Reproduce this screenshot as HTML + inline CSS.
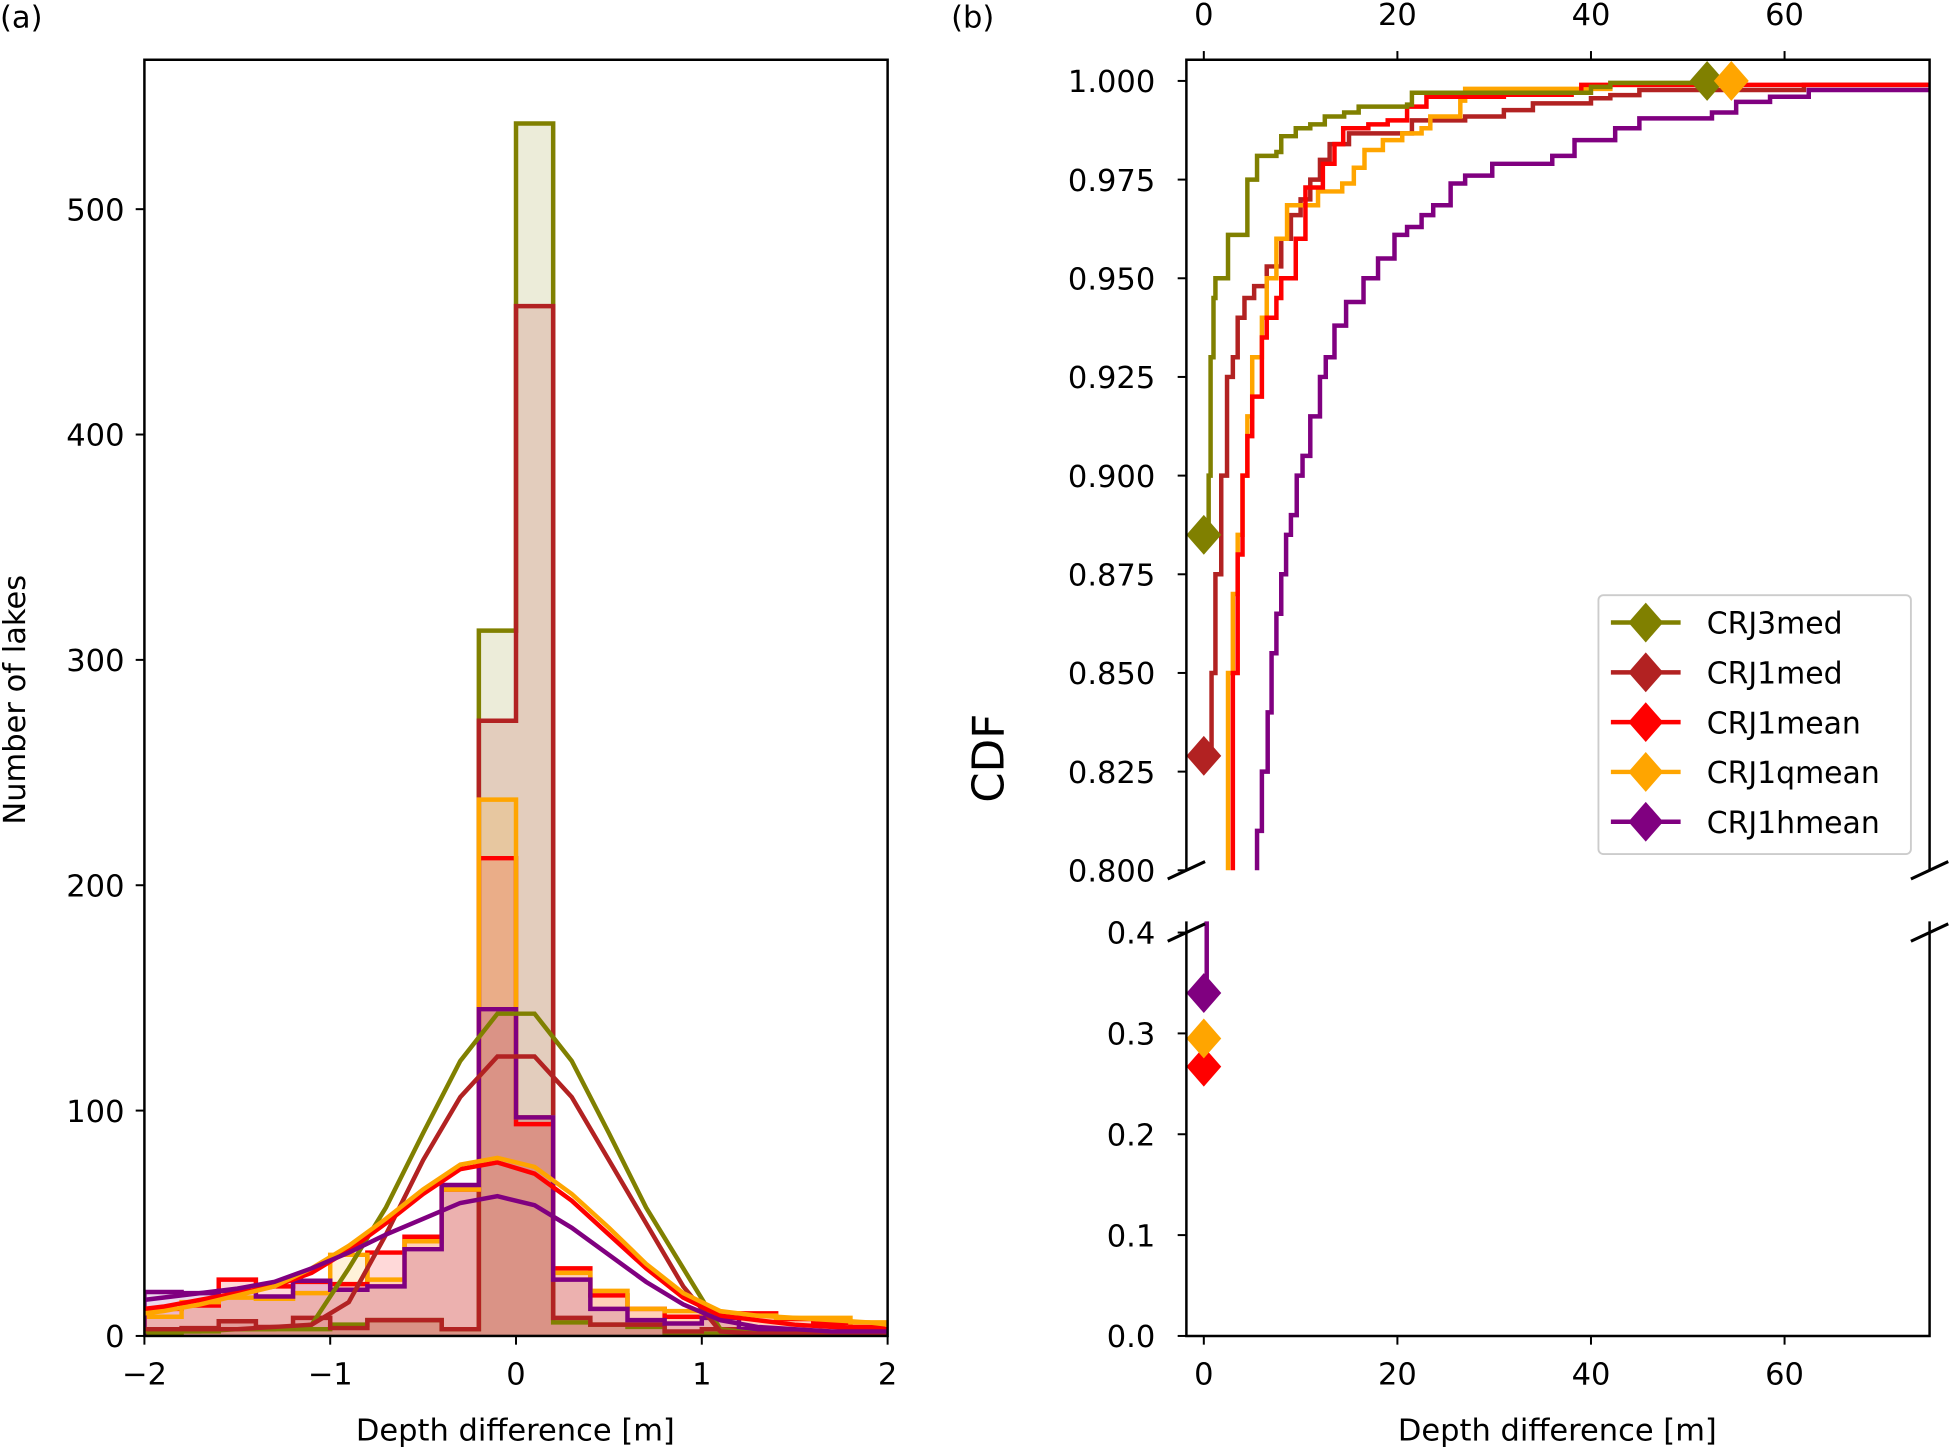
<!DOCTYPE html>
<html><head><meta charset="utf-8"><style>
html,body{margin:0;padding:0;background:#fff}
svg{display:block}
text{font-family:"DejaVu Sans","Liberation Sans",sans-serif;fill:#000}
</style></head><body>
<svg id="fig" width="1952" height="1448" viewBox="0 0 1568 1163" preserveAspectRatio="none" xmlns="http://www.w3.org/2000/svg">
<defs>
<clipPath id="clipA"><rect x="116" y="48" width="597" height="1025"/></clipPath>
<clipPath id="clipT"><rect x="953" y="48" width="597" height="651"/></clipPath>
<clipPath id="clipB"><rect x="953" y="740" width="597" height="333"/></clipPath>
</defs>
<g id="panelA"></g>
<g id="panelB"></g>
</svg>
<script>
// ---------- data ----------
const seriesNames = ["CRJ3med","CRJ1med","CRJ1mean","CRJ1qmean","CRJ1hmean"];
const seriesColors = ["#808000","#b22222","#ff0000","#ffa500","#800080"];
const binEdgesStart = -2, binWidth = 0.2;
const histCRJ3med  = [1,2,3,3,3,5,7,7,3,313,538,6,5,4,1,1,0,0,0,0];
const histCRJ1med  = [3,3.5,6.5,4,8,3.5,7,7,3,273,457,8,5,5,2,3,1.5,1,1,1];
const histCRJ1mean = [12,13.5,25,22,24,23,37,44,65,212,94,30,18,12,8.5,10,10,7.5,5.5,4];
const histCRJ1qmean= [8.5,15,17,16.5,19,36,25,42,65,238,97,28,20,12,11,10,9,8,8,6];
const histCRJ1hmean= [19.5,19,20,17.5,24.5,20.5,22,38.5,67,145,97,25,12,7,5.5,8,3,2,1,1];
const kdeX = [-2,-1.9,-1.7,-1.5,-1.3,-1.1,-0.9,-0.7,-0.5,-0.3,-0.1,0.1,0.3,0.5,0.7,0.9,1.1,1.3,1.5,1.7,1.9,2];
const kdeCRJ3med  = [2,2,2,3,3,5,30,57,90,122,143,143,122,90,57,30,3,1,1,1,1,1];
const kdeCRJ1med  = [3,3,3,3,4,5,15,45,78,106,124,124,106,78,50,22,2,1,1,1,1,1];
const kdeCRJ1mean = [12,13,16,19,22,28,38,50,63,74,77,72,60,45,30,17,9,7,5,4,3,3];
const kdeCRJ1qmean= [10,11,14,18,22,30,40,52,65,76,79,75,63,48,32,19,11,9,8,7,6,5];
const kdeCRJ1hmean= [16,17,19,21,24,30,37,45,52,59,62,58,48,36,24,14,7,4,3,2,2,2];
const yTicksA = [0,100,200,300,400,500];
const xTicksA = [-2,-1,0,1,2];
const xTickLabelsA = ["\u22122","\u22121","0","1","2"];

const cdfX_CRJ3med = [0.3,0.5,0.7,1.0,1.2,2.5,4.5,5.5,7.5,8,9.5,11,12.5,14.5,16,21,21.5,40,42,52];
const cdfY_CRJ3med = [0.885,0.9,0.93,0.945,0.95,0.961,0.975,0.981,0.982,0.986,0.988,0.989,0.991,0.992,0.9935,0.994,0.997,0.9985,0.9995,1.0];
const cdfX_CRJ1med = [0.5,0.8,1.2,1.8,2.4,3,3.5,4.2,5.2,6.5,8,9,10,11,12,13,15,20,21.5,27,31,34,40,42,45,62,75];
const cdfY_CRJ1med = [0.829,0.85,0.875,0.9,0.925,0.93,0.94,0.945,0.948,0.953,0.96,0.966,0.97,0.975,0.98,0.984,0.9867,0.9867,0.99,0.991,0.9926,0.9943,0.9956,0.9964,0.9977,0.999,0.999];
const cdfX_CRJ1mean = [2.5,3,3.5,4,4.5,5,6,6.5,7.5,8,9.5,10.5,12.3,13.5,14.4,17,19,21,23,31,38,39,75];
const cdfY_CRJ1mean = [0.79,0.85,0.88,0.9,0.91,0.92,0.935,0.94,0.945,0.95,0.96,0.973,0.979,0.984,0.988,0.989,0.99,0.9935,0.996,0.9965,0.997,0.999,0.999];
const cdfX_CRJ1qmean = [2,2.5,3,3.5,4,4.5,5,6,6.5,7.5,8.6,11.8,14.3,15.5,16.6,18.5,20.5,22.5,23.4,26.5,27,42,54.5];
const cdfY_CRJ1qmean = [0.79,0.85,0.87,0.885,0.9,0.915,0.93,0.94,0.95,0.96,0.9685,0.972,0.974,0.978,0.9825,0.985,0.9867,0.988,0.991,0.995,0.998,0.999,1.0];
const cdfX_CRJ1hmean = [5.2,5.5,6,6.6,7,7.5,8,8.5,9,9.6,10.2,11,12,12.6,13.5,14.7,16.5,18,19.7,21,22.5,23.7,25.5,27,29.8,33.5,36,38.3,42,42.5,45,50.4,52.5,55,58.5,62.5,75];
const cdfY_CRJ1hmean = [0.79,0.81,0.825,0.84,0.855,0.865,0.875,0.885,0.89,0.9,0.905,0.915,0.925,0.93,0.938,0.944,0.95,0.955,0.961,0.963,0.966,0.9685,0.974,0.976,0.979,0.979,0.981,0.985,0.985,0.988,0.9905,0.9905,0.992,0.9947,0.996,0.9977,0.9977];
const lowPurpleX = [0.3,0.3];
const lowPurpleY = [0.34,0.45];
const markerStartX = [0,0,0,0,0];
const markerStartY = [0.885,0.829,0.267,0.295,0.34];
const markerEndX = [52,null,null,54.5,null];
const markerEndY = [1.0,null,null,1.0,null];
const yTicksTop = [0.800,0.825,0.850,0.875,0.900,0.925,0.950,0.975,1.000];
const yTicksBot = [0.0,0.1,0.2,0.3,0.4];
const xTicksB = [0,20,40,60];

// ---------- helpers ----------
const NS="http://www.w3.org/2000/svg";
function mk(tag, attrs, parent){const e=document.createElementNS(NS,tag);for(const k in attrs)e.setAttribute(k,attrs[k]);parent.appendChild(e);return e;}
function txt(s, attrs, parent){const e=mk('text',attrs,parent);e.textContent=s;return e;}
const LW=3.6, FS=24.5;

// ---------- panel A ----------
const A=document.getElementById('panelA');
const ax=v=>116+(v+2)*(597/4);
const ay=v=>1073-v*1.81;
const hists=[histCRJ3med,histCRJ1med,histCRJ1mean,histCRJ1qmean,histCRJ1hmean];
const kdes=[kdeCRJ3med,kdeCRJ1med,kdeCRJ1mean,kdeCRJ1qmean,kdeCRJ1hmean];
const gA=mk('g',{'clip-path':'url(#clipA)'},A);
function stepPath(h){let d='M'+ax(binEdgesStart)+','+ay(0);h.forEach((v,i)=>{const x0=ax(binEdgesStart+i*binWidth),x1=ax(binEdgesStart+(i+1)*binWidth);d+=' L'+x0+','+ay(v)+' L'+x1+','+ay(v);});d+=' L'+ax(binEdgesStart+h.length*binWidth)+','+ay(0);return d;}
hists.forEach((h,i)=>{
  const p=mk('path',{d:stepPath(h)+' Z',fill:seriesColors[i],'fill-opacity':0.15,stroke:'none'},gA);
  
  
});
hists.forEach((h,i)=>{
  const p=mk('path',{d:stepPath(h),fill:'none',stroke:seriesColors[i],'stroke-width':LW,'stroke-linejoin':'miter'},gA);
  
  
});
kdes.forEach((k,i)=>{
  const pts=k.map((v,j)=>ax(kdeX[j])+','+ay(v)).join(' ');
  const p=mk('polyline',{points:pts,fill:'none',stroke:seriesColors[i],'stroke-width':LW},gA);
  
  
});
const frameA=mk('rect',{x:116,y:48,width:597,height:1025,fill:'none',stroke:'#000','stroke-width':2},A);


yTicksA.forEach(v=>{
  mk('line',{x1:109,x2:116,y1:ay(v),y2:ay(v),stroke:'#000','stroke-width':1.6},A);
  const t=txt(String(v),{x:100,y:ay(v)+9,'font-size':FS,'text-anchor':'end'},A);
  
  
});
xTicksA.forEach((v,i)=>{
  mk('line',{x1:ax(v),x2:ax(v),y1:1073,y2:1080,stroke:'#000','stroke-width':1.6},A);
  const t=txt(xTickLabelsA[i],{x:ax(v),y:1112,'font-size':FS,'text-anchor':'middle'},A);
  
  
});
let t;
t=txt('Depth difference [m]',{x:414,y:1157,'font-size':FS,'text-anchor':'middle'},A);

t=txt('Number of lakes',{x:0,y:0,'font-size':FS,'text-anchor':'middle',transform:'translate(20,562) rotate(-90)'},A);

t=txt('(a)',{x:0,y:22,'font-size':FS},A);


// ---------- panel B ----------
const B=document.getElementById('panelB');
const bx=v=>967+v*(155.5/20);
const byT=v=>699-(v-0.8)*(634/0.2);
const byB=v=>1073-v*810;
const gT=mk('g',{'clip-path':'url(#clipT)'},B);
const gB=mk('g',{'clip-path':'url(#clipB)'},B);
const cdfXs=[cdfX_CRJ3med,cdfX_CRJ1med,cdfX_CRJ1mean,cdfX_CRJ1qmean,cdfX_CRJ1hmean];
const cdfYs=[cdfY_CRJ3med,cdfY_CRJ1med,cdfY_CRJ1mean,cdfY_CRJ1qmean,cdfY_CRJ1hmean];
[4,1,3,2,0].forEach(i=>{
  const X=cdfXs[i],Y=cdfYs[i];
  let d='M'+bx(X[0])+','+byT(Y[0]);
  for(let j=1;j<X.length;j++){d+=' L'+bx(X[j])+','+byT(Y[j-1])+' L'+bx(X[j])+','+byT(Y[j]);}
  const p=mk('path',{d:d,fill:'none',stroke:seriesColors[i],'stroke-width':LW},gT);
  
  
});
const lp=mk('polyline',{points:lowPurpleX.map((x,j)=>bx(x)+','+byB(lowPurpleY[j])).join(' '),fill:'none',stroke:seriesColors[4],'stroke-width':LW},gB);


function diamond(cx,cy,c,parent,name){
  const p=mk('polygon',{points:(cx-14)+','+cy+' '+cx+','+(cy-16)+' '+(cx+14)+','+cy+' '+cx+','+(cy+16),fill:c},parent);
  
  
}
markerStartY.forEach((v,i)=>{
  const cy=v>=0.8?byT(v):byB(v);
  diamond(bx(markerStartX[i]),cy,seriesColors[i],B,'start-marker-'+seriesNames[i].toLowerCase());
});
markerEndX.forEach((v,i)=>{ if(v!==null) diamond(bx(v),byT(markerEndY[i]),seriesColors[i],B,'end-marker-'+seriesNames[i].toLowerCase()); });
mk('polyline',{points:'953,699 953,48 1550,48 1550,699',fill:'none',stroke:'#000','stroke-width':2},B);
mk('polyline',{points:'953,740 953,1073 1550,1073 1550,740',fill:'none',stroke:'#000','stroke-width':2},B);
[[953,699],[1550,699],[953,749],[1550,749]].forEach(p=>{
  mk('line',{x1:p[0]-15,y1:p[1]+7,x2:p[0]+15,y2:p[1]-7,stroke:'#000','stroke-width':2.5},B);
});
yTicksTop.forEach(v=>{
  mk('line',{x1:946,x2:953,y1:byT(v),y2:byT(v),stroke:'#000','stroke-width':1.6},B);
  const e=txt(v.toFixed(3),{x:928,y:byT(v)+9,'font-size':FS,'text-anchor':'end'},B);
  
});
yTicksBot.forEach(v=>{
  mk('line',{x1:946,x2:953,y1:byB(v),y2:byB(v),stroke:'#000','stroke-width':1.6},B);
  const e=txt(v.toFixed(1),{x:928,y:byB(v)+9,'font-size':FS,'text-anchor':'end'},B);
  
});
xTicksB.forEach(v=>{
  mk('line',{x1:bx(v),x2:bx(v),y1:1073,y2:1080,stroke:'#000','stroke-width':1.6},B);
  mk('line',{x1:bx(v),x2:bx(v),y1:41,y2:48,stroke:'#000','stroke-width':1.6},B);
  let e=txt(String(v),{x:bx(v),y:1112,'font-size':FS,'text-anchor':'middle'},B);
  
  e=txt(String(v),{x:bx(v),y:20,'font-size':FS,'text-anchor':'middle'},B);
  
});
t=txt('Depth difference [m]',{x:1251,y:1157,'font-size':FS,'text-anchor':'middle'},B);

t=txt('CDF',{x:0,y:0,'font-size':35,'text-anchor':'middle',transform:'translate(806,609) rotate(-90)'},B);

t=txt('(b)',{x:764,y:22,'font-size':FS},B);

const L=mk('g',{},B);


mk('rect',{x:1284,y:478,width:251,height:208,rx:4,fill:'#fff','fill-opacity':0.85,stroke:'#ccc','stroke-width':1.5},L);
seriesNames.forEach((n,i)=>{
  const y=500+i*40;
  const g=mk('g',{},L);
  
  
  mk('line',{x1:1294,x2:1350,y1:y,y2:y,stroke:seriesColors[i],'stroke-width':LW},g);
  mk('polygon',{points:(1308)+','+y+' 1322,'+(y-16)+' 1336,'+y+' 1322,'+(y+16),fill:seriesColors[i]},g);
  txt(n,{x:1371,y:y+9,'font-size':24},g);
});
</script>
</body></html>
